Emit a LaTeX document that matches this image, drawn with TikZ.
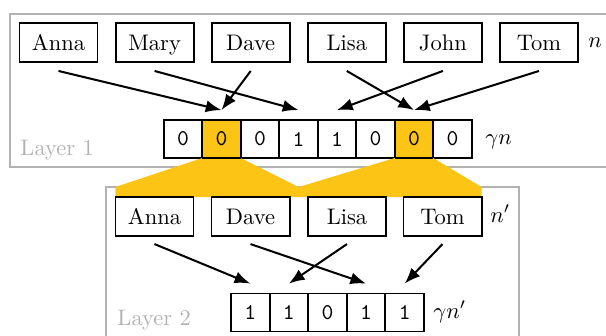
\documentclass[tikz,border=0pt]{standalone}
\usetikzlibrary{arrows.meta,calc}
\definecolor{hl}{RGB}{252,196,20}
\definecolor{framegray}{RGB}{178,178,178}
\begin{document}
\begin{tikzpicture}[x=0.4444pt,y=-0.4444pt,
  namebox/.style={draw,line width=0.85pt,fill=white,minimum width=34.7pt,
    minimum height=17.3pt,inner sep=0pt,outer sep=0pt,
    text height=6.83pt,text depth=0pt},
  cell/.style={draw,line width=0.85pt,fill=white,minimum width=17.1pt,
    minimum height=16.9pt,inner sep=0pt,outer sep=0pt,font=\ttfamily},
  hlcell/.style={cell,fill=hl},
  layerframe/.style={draw=framegray,line width=0.7pt},
  layerlabel/.style={text=framegray,anchor=base west,inner sep=0pt},
  sizelabel/.style={anchor=base west,inner sep=0pt},
  arr/.style={-{Latex[length=7pt,width=5.4pt]},line width=0.9pt},
]
\useasboundingbox (0,0) rectangle (606,336);

% layer frames
\draw[layerframe] (10,14) rectangle (660,167);
\draw[layerframe] (106,187) coordinate (l2top) rectangle (519,370);
\node[layerlabel] (lab1) at (20,155) {Layer 1};
\node[layerlabel] (lab2) at (117,325) {Layer 2};

% layer 1: names
\node[namebox] (anna) at (58.5,42.5) {Anna};
\node[namebox] (mary) at (154.6,42.5) {Mary};
\node[namebox] (dave) at (250.7,42.5) {Dave};
\node[namebox] (lisa) at (346.8,42.5) {Lisa};
\node[namebox] (john) at (442.9,42.5) {John};
\node[namebox] (tom)  at (539,42.5) {Tom};
\node[sizelabel] (n1) at (588,47.5) {$n$};

% layer 1: bit array
\node[cell]   (a1) at (183.0,139) {0};
\node[hlcell] (a2) at (221.5,139) {0};
\node[cell]   (a3) at (260.0,139) {0};
\node[cell]   (a4) at (298.5,139) {1};
\node[cell]   (a5) at (337.0,139) {1};
\node[cell]   (a6) at (375.5,139) {0};
\node[hlcell] (a7) at (414.0,139) {0};
\node[cell]   (a8) at (452.5,139) {0};
\node[sizelabel] (g1) at (485,144) {$\gamma n$};

% layer 2: names
\node[namebox] (anna2) at (154.5,216.5) {Anna};
\node[namebox] (dave2) at (250.5,216.5) {Dave};
\node[namebox] (lisa2) at (347,216.5) {Lisa};
\node[namebox] (tom2)  at (442.5,216.5) {Tom};
\node[sizelabel] (n2) at (490,222) {$n'$};

% highlighted cells spread into layer 2
\coordinate (mid) at ($(dave2.north east)!0.5!(lisa2.north west)$);
\fill[hl] (a2.south west) -- (a2.south east) -- (mid |- l2top) -- (mid)
  -- (anna2.north west) -- (anna2.north west |- l2top) -- cycle;
\fill[hl] (a7.south west) -- (a7.south east) -- (tom2.north east |- l2top)
  -- (tom2.north east) -- (mid) -- (mid |- l2top) -- cycle;
\foreach \c in {anna2,dave2,lisa2,tom2} \draw[line width=0.85pt] (\c.north west) rectangle (\c.south east);
\draw[line width=0.85pt] (a2.south west) -- (a2.south east);
\draw[line width=0.85pt] (a7.south west) -- (a7.south east);

% layer 2: bit array
\node[cell] (b1) at (250.3,312.5) {1};
\node[cell] (b2) at (288.9,312.5) {1};
\node[cell] (b3) at (327.5,312.5) {0};
\node[cell] (b4) at (366.1,312.5) {1};
\node[cell] (b5) at (404.7,312.5) {1};
\node[sizelabel] (g2) at (433,318) {$\gamma n'$};

% layer 1 mapping
\draw[arr] ([yshift=-4pt]anna.south) -- ([yshift=4.4pt]a2.north);
\draw[arr] ([yshift=-4pt]mary.south) -- ([yshift=4.4pt]a4.north);
\draw[arr] ([yshift=-4pt]dave.south) -- ([yshift=4.4pt]a2.north);
\draw[arr] ([yshift=-4pt]lisa.south) -- ([yshift=4.4pt]a7.north);
\draw[arr] ([yshift=-4pt]john.south) -- ([yshift=4.4pt]a5.north);
\draw[arr] ([yshift=-4pt]tom.south)  -- ([yshift=4.4pt]a7.north);

% layer 2 mapping
\draw[arr] ([yshift=-3.6pt]anna2.south) -- ([yshift=4.4pt]b1.north);
\draw[arr] ([yshift=-3.6pt]dave2.south) -- ([yshift=4.4pt]b4.north);
\draw[arr] ([yshift=-3.6pt]lisa2.south) -- ([yshift=4.4pt]b2.north);
\draw[arr] ([yshift=-3.6pt]tom2.south)  -- ([yshift=4.4pt]b5.north);
\end{tikzpicture}
\end{document}
